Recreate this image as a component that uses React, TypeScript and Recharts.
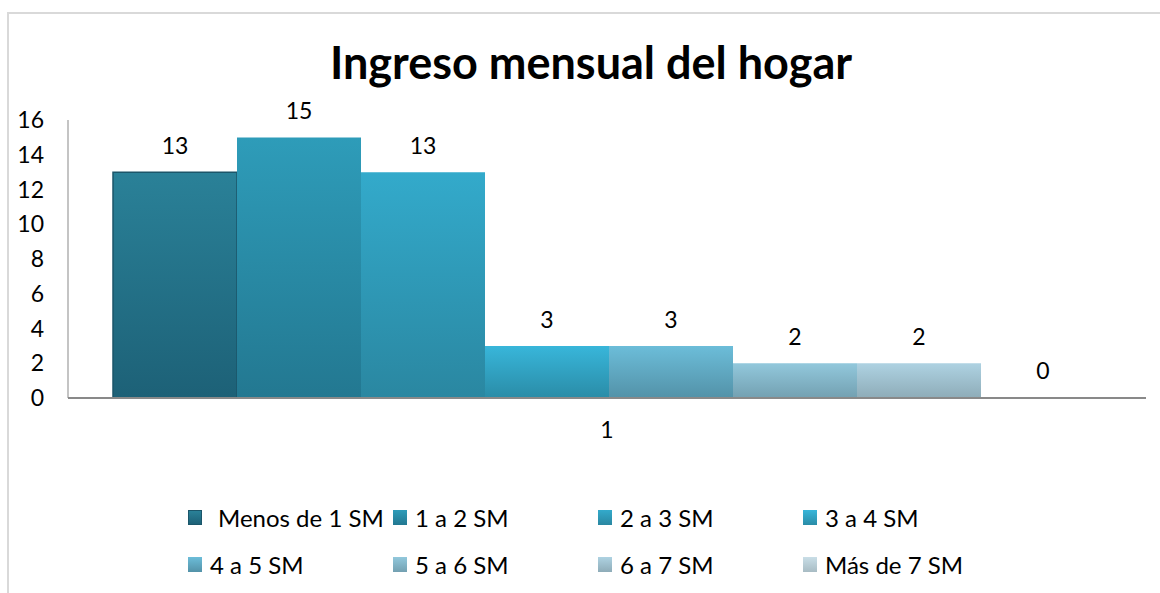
import { BarChart, Bar, XAxis, YAxis, LabelList } from "recharts";

const categories = ["1"];
const seriesNames = [
  "Menos de 1 SM",
  "1 a 2 SM",
  "2 a 3 SM",
  "3 a 4 SM",
  "4 a 5 SM",
  "5 a 6 SM",
  "6 a 7 SM",
  "Más de 7 SM",
];
const seriesValues = [13, 15, 13, 3, 3, 2, 2, 0];
const yTicks = [0, 2, 4, 6, 8, 10, 12, 14, 16];

// gradient top / bottom per series
const fills = [
  ["#2A8198", "#1D6177"],
  ["#2E9CB9", "#237891"],
  ["#33AACB", "#2A87A1"],
  ["#38B6DA", "#2A8CA7"],
  ["#6CBDD9", "#5392A8"],
  ["#92C8DC", "#73A0B1"],
  ["#AED2E2", "#8EACB8"],
  ["#C9DEE7", "#A8BCC4"],
];

const FONT = "Lato, 'Open Sans', sans-serif";

const data = categories.map((c) => {
  const row: Record<string, string | number> = { name: c };
  seriesNames.forEach((s, i) => {
    row[`s${i}`] = seriesValues[i];
  });
  return row;
});

const LegendGrid = () => (
  <div style={{ position: "absolute", left: 0, top: 502, width: 1160, height: 90, fontFamily: FONT, fontSize: 24, color: "#000" }}>
    {seriesNames.map((s, i) => {
      const col = i % 4;
      const row = Math.floor(i / 4);
      return (
        <div
          key={s}
          style={{
            position: "absolute",
            left: 188 + col * 205,
            top: row * 47,
            display: "flex",
            alignItems: "center",
            height: 30,
            whiteSpace: "nowrap",
          }}
        >
          <span
            style={{
              display: "inline-block",
              width: 14,
              height: 15,
              background: `linear-gradient(${fills[i][0]}, ${fills[i][1]})`,
              border: i === 0 ? "1.5px solid #1B566A" : "none",
              boxSizing: "border-box",
              marginRight: i === 0 ? 16 : 8,
            }}
          />
          <span>{s}</span>
        </div>
      );
    })}
  </div>
);

export default function App() {
  return (
    <div style={{ position: "absolute", left: 0, top: 0, width: 1160, height: 593, overflow: "hidden", background: "#fff" }}>
      <div
        style={{
          position: "absolute",
          left: 7,
          top: 12,
          width: 1200,
          height: 650,
          border: "2px solid #D9D9D9",
        }}
      />
      <div
        style={{
          position: "absolute",
          left: 0,
          top: 35,
          width: 1182,
          textAlign: "center",
          fontFamily: FONT,
          fontWeight: 700,
          fontSize: 45,
          color: "#000",
        }}
      >
        Ingreso mensual del hogar
      </div>
      <div style={{ position: "absolute", left: 0, top: 0 }}>
        <BarChart
          width={1160}
          height={593}
          data={data}
          margin={{ top: 120, right: 14, left: 8, bottom: 155 }}
          barCategoryGap={45}
          barGap={0}
        >
          <defs>
            {fills.map((f, i) => (
              <linearGradient key={i} id={`g${i}`} x1="0" y1="0" x2="0" y2="1">
                <stop offset="0%" stopColor={f[0]} />
                <stop offset="100%" stopColor={f[1]} />
              </linearGradient>
            ))}
          </defs>
          <XAxis
            dataKey="name"
            height={40}
            axisLine={{ stroke: "#898989", strokeWidth: 2 }}
            tickLine={false}
            tickSize={0}
            tickMargin={24}
            tick={{ fill: "#000", fontSize: 23, fontFamily: FONT }}
          />
          <YAxis
            width={60}
            domain={[0, 16]}
            ticks={yTicks}
            interval={0}
            axisLine={{ stroke: "#898989", strokeWidth: 1 }}
            tickLine={false}
            tickSize={0}
            tickMargin={24}
            tick={{ fill: "#000", fontSize: 23, fontFamily: FONT }}
          />
          {seriesNames.map((s, i) => (
            <Bar
              key={s}
              dataKey={`s${i}`}
              name={s}
              fill={`url(#g${i})`}
              stroke={i === 0 ? "#1B566A" : "none"}
              strokeWidth={i === 0 ? 1.5 : 0}
              minPointSize={1}
              isAnimationActive={false}
            >
              <LabelList dataKey={`s${i}`} position="top" offset={18} style={{ fill: "#000", fontSize: 23, fontFamily: FONT }} />
            </Bar>
          ))}
        </BarChart>
      </div>
      <LegendGrid />
    </div>
  );
}
